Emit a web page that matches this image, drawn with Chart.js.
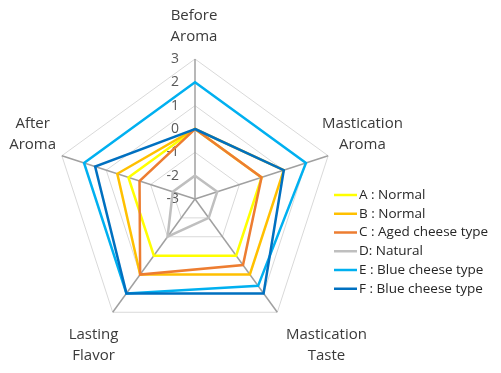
<!DOCTYPE html>
<html>
<head>
<meta charset="utf-8">
<script src="https://cdn.jsdelivr.net/npm/chart.js@4.4.1/dist/chart.umd.min.js"></script>
<style>
  html, body { margin: 0; padding: 0; background: #fff; }
  canvas { display: block; }
</style>
</head>
<body>
<canvas id="chart" width="501" height="373"></canvas>
<script>
// ── DATA ──────────────────────────────────────────────────────────────────
const axisLabels   = [['Before', 'Aroma'], ['Mastication', 'Aroma'], ['Mastication', 'Taste'], ['Lasting', 'Flavor'], ['After', 'Aroma']];
const tickValues   = [-3, -2, -1, 0, 1, 2, 3];
const seriesNames  = ['A : Normal', 'B : Normal', 'C : Aged cheese type', 'D: Natural', 'E : Blue cheese type', 'F : Blue cheese type'];
const seriesColors = ['#FFFF00', '#FFC000', '#ED7D31', '#BFBFBF', '#00B0F0', '#0070C0'];

const valuesA = [0, 0, 0, 0, 0];
const valuesB = [0, 1, 1, 1, 0.5];
const valuesC = [0, 0, 0.5, 1, -0.5];
const valuesD = [-2, -2, -2, -1, -2];
const valuesE = [2, 2, 1.6, 2, 2];
const valuesF = [0, 1, 2, 2, 1.5];

const seriesValues = [valuesA, valuesB, valuesC, valuesD, valuesE, valuesF];

// ── LABELS / TICKS / LEGEND PLUGIN ────────────────────────────────────────
const labelNudge = [[-1, 0], [0, -10], [28, 4], [2, 4], [5, -10]];

const decorPlugin = {
  id: 'decor',
  beforeDatasetsDraw(chart) {
    const s = chart.scales.r;
    const ctx = chart.ctx;
    ctx.save();
    ctx.font = '14px "Open Sans"';
    ctx.fillStyle = '#595959';
    ctx.textAlign = 'right';
    ctx.textBaseline = 'middle';
    tickValues.forEach(v => {
      const d = s.getDistanceFromCenterForValue(v);
      ctx.fillText(String(v), s.xCenter - 16, s.yCenter - d);
    });
    ctx.restore();
  },
  afterDraw(chart) {
    const s = chart.scales.r;
    const ctx = chart.ctx;
    ctx.save();

    // axis names
    ctx.font = '15px "Open Sans"';
    ctx.fillStyle = '#3A3A3A';
    ctx.textAlign = 'center';
    ctx.textBaseline = 'middle';
    axisLabels.forEach((lines, i) => {
      const p = s.getPointPosition(i, s.drawingArea + (i === 0 ? 33 : 36));
      const x = p.x + labelNudge[i][0];
      const y = p.y + labelNudge[i][1];
      ctx.fillText(lines[0], x, y - 10.5);
      ctx.fillText(lines[1], x, y + 10.5);
    });

    // legend
    ctx.font = '13.5px "Open Sans"';
    ctx.textAlign = 'left';
    ctx.fillStyle = '#262626';
    ctx.lineWidth = 2.5;
    seriesNames.forEach((name, i) => {
      const y = 195 + i * 18.75;
      ctx.strokeStyle = seriesColors[i];
      ctx.beginPath();
      ctx.moveTo(334, y);
      ctx.lineTo(357, y);
      ctx.stroke();
      ctx.fillText(name, 359, y);
    });
    ctx.restore();
  }
};

// ── CHART ─────────────────────────────────────────────────────────────────
function buildChart() {
  new Chart(document.getElementById('chart'), {
    type: 'radar',
    data: {
      labels: axisLabels,
      datasets: seriesNames.map((name, i) => ({
        label: name,
        data: seriesValues[i],
        borderColor: seriesColors[i],
        backgroundColor: 'transparent',
        borderWidth: 2.5,
        fill: false,
        pointRadius: 0,
        pointHoverRadius: 0,
        tension: 0,
        order: seriesNames.length - i
      }))
    },
    options: {
      responsive: false,
      animation: false,
      events: [],
      layout: { padding: { left: 55, right: 166, top: 59, bottom: 34 } },
      plugins: {
        legend: { display: false },
        tooltip: { enabled: false }
      },
      scales: {
        r: {
          min: -3,
          max: 3,
          beginAtZero: false,
          ticks: { stepSize: 1, display: false },
          grid: { color: '#D9D9D9', lineWidth: 1 },
          angleLines: { color: '#A0A0A0', lineWidth: 1.5 },
          pointLabels: { display: false }
        }
      }
    },
    plugins: [decorPlugin]
  });
}

document.fonts.load('15px "Open Sans"').then(buildChart, buildChart);
</script>
</body>
</html>
